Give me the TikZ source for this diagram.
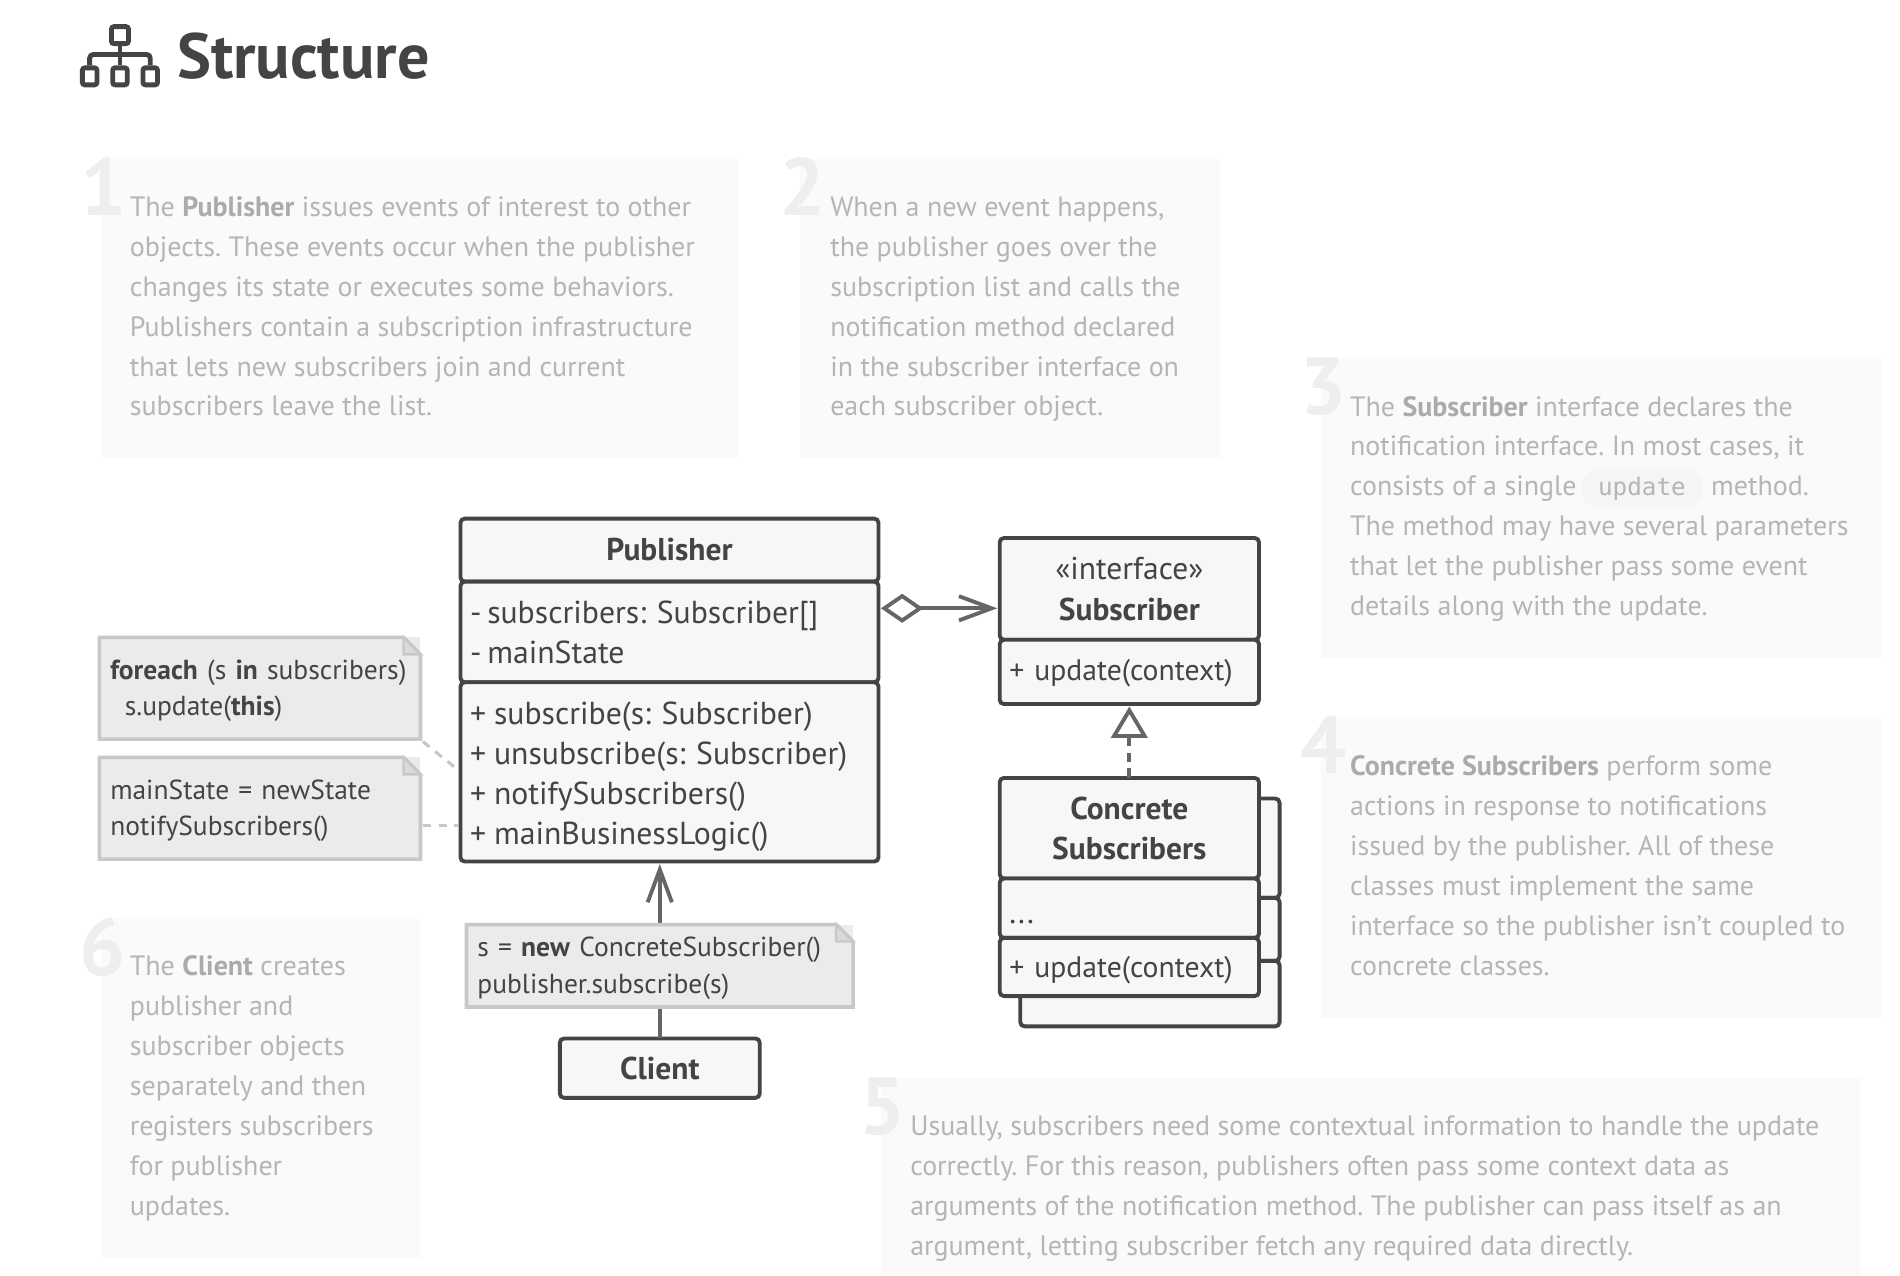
\documentclass[tikz,border=0pt]{standalone}
\usepackage{fontspec}
\setmainfont{PT Sans}
\setmonofont{DejaVu Sans Mono}
\usetikzlibrary{positioning,arrows.meta}
\definecolor{ink}{HTML}{444444}
\definecolor{linegray}{HTML}{666666}
\definecolor{boxfill}{HTML}{F7F7F7}
\definecolor{notefill}{HTML}{EBEBEB}
\definecolor{noteline}{HTML}{C8C8C8}
\definecolor{descfill}{HTML}{FAFAFA}
\definecolor{desctext}{HTML}{B5B5B5}
\definecolor{descbold}{HTML}{ABABAB}
\definecolor{digitgray}{HTML}{EEEEEE}
\newcommand{\hl}[1]{\textcolor{descbold}{\textbf{#1}}}
\newcommand{\pushdown}[1]{\rule{0pt}{#1pt}}
\tikzset{
    compart/.style={draw=ink,fill=boxfill,line width=3.2pt,rounded corners=3.5pt,outer sep=0,inner sep=0,text=ink,font=\frenchspacing\fontsize{26.2}{33}\selectfont},
    ctitle/.style={compart,align=center,font=\fontsize{26}{33}\selectfont\bfseries},
    cbody/.style={compart,align=left,inner xsep=8pt},
    csmall/.style={cbody,font=\frenchspacing\fontsize{24.5}{33}\selectfont},
    notetext/.style={fill=notefill,anchor=north west,outer sep=0,inner sep=0,inner xsep=9pt,align=left,text=ink,font=\frenchspacing\fontsize{22.7}{30}\selectfont},
    notebord/.style={draw=noteline,line width=3pt},
    desc/.style={anchor=north west,inner sep=0,align=left,text=desctext,font=\frenchspacing\fontsize{23.08}{33}\selectfont},
    digit/.style={anchor=north west,inner sep=0,text=digitgray,font=\fontsize{67}{67}\selectfont\bfseries},
    assoc/.style={draw=linegray,line width=3.2pt},
    notelink/.style={draw=noteline,line width=2.6pt,dash pattern=on 7pt off 6pt},
}
\begin{document}
\begin{tikzpicture}[x=1pt,y=-1pt]
\useasboundingbox (0,0) rectangle (1568,1053);
% title
\foreach \x in {66,91,116}{
    \draw[ink,line width=4pt,rounded corners=2pt] (\x+2,56) rectangle (\x+14,70);
}
\draw[ink,line width=4pt,rounded corners=2pt] (92,22) rectangle (106,36);
\draw[ink,line width=4pt] (99,36) -- (99,54);
\draw[ink,line width=4pt,rounded corners=3pt] (74,54) -- (74,45) -- (124,45) -- (124,54);
\node[anchor=base west,inner sep=0,text=ink,font=\fontsize{52.8}{53}\selectfont\bfseries] (title) at (146,65) {Structure};

% descriptions
\foreach \n/\xa/\ya/\xb/\yb in {box1/83/131/610/378,box2/660/131/1007/378,box3/1090/296/1552/543,box4/1090/592/1552/840,box5/727/890/1535/1052,box6/83/758/347/1038}{
    \fill[descfill] (\xa,\ya) rectangle (\xb,\yb);
}
\foreach \n/\x/\y/\d in {d1/66/130/1,d2/643/130/2,d3/1073/295/3,d4/1073/591/4,d5/709/889/5,d6/65/757/6}{
    \node[digit] (\n) at (\x,\y) {\d};
}
\node[desc] (text1) at (107,155) {\strut The \hl{Publisher} issues events of interest to other\\objects. These events occur when the publisher\\changes its state or executes some behaviors.\\Publishers contain a subscription infrastructure\\that lets new subscribers join and current\\subscribers leave the list.};
\node[desc] (text2) at (685,155) {\strut When a new event happens,\\the publisher goes over the\\subscription list and calls the\\notification method declared\\in the subscriber interface on\\each subscriber object.};
\node[fill=notefill!50,rounded corners=14pt,minimum width=100,minimum height=32,inner sep=0,text=desctext,font=\fontsize{20}{24}\selectfont\ttfamily] (chip) at (1355,403) {update};
\node[desc] (text3) at (1114,320) {\strut The \hl{Subscriber} interface declares the\\notification interface. In most cases, it\\consists of a single\\The method may have several parameters\\that let the publisher pass some event\\details along with the update.};
\node[anchor=base west,inner sep=0,text=desctext,font=\fontsize{23.08}{33}\selectfont] (text3b) at (1412,409) {method.};
\node[desc] (text4) at (1114,617) {\strut\hl{Concrete Subscribers} perform some\\actions in response to notifications\\issued by the publisher. All of these\\classes must implement the same\\interface so the publisher isn’t coupled to\\concrete classes.};
\node[desc] (text5) at (751,914) {\strut Usually, subscribers need some contextual information to handle the update\\correctly. For this reason, publishers often pass some context data as\\arguments of the notification method. The publisher can pass itself as an\\argument, letting subscriber fetch any required data directly.};
\node[desc] (text6) at (107,782) {\strut The \hl{Client} creates\\publisher and\\subscriber objects\\separately and then\\registers subscribers\\for publisher\\updates.};

% classes
\node[ctitle,minimum width=345,minimum height=52,anchor=north west] (pubtitle) at (380,428) {\raisebox{2pt}{Publisher}};
\node[cbody,text width=329,minimum height=83,below=0pt of pubtitle] (pubattrs) {\pushdown{20}-\hspace{.18em}subscribers: Subscriber[]\\-\hspace{.18em}mainState};
\node[cbody,text width=329,minimum height=148,below=0pt of pubattrs] (pubops) {\pushdown{26}+\hspace{6.5pt}subscribe(s: Subscriber)\\+\hspace{6.5pt}unsubscribe(s: Subscriber)\\+\hspace{6.5pt}notifySubscribers()\\+\hspace{6.5pt}mainBusinessLogic()};

\node[ctitle,minimum width=214,minimum height=84,anchor=north west,font=\fontsize{26}{34}\selectfont\bfseries] (subtitle) at (825,444) {\textmd{«interface»}\\Subscriber};
\node[csmall,text width=198,minimum height=53,below=0pt of subtitle] (subops) {\pushdown{19}+ update(context)};

\foreach \n/\y/\h in {backa/659/82,backb/741/52,backc/793/54}{
    \node[compart,minimum width=214,minimum height=\h,anchor=north west] (\n) at (842,\y) {};
}
\node[ctitle,minimum width=214,minimum height=83,anchor=north west] (conctitle) at (825,642) {Concrete\\Subscribers};
\node[cbody,text width=198,minimum height=49,below=0pt of conctitle] (concattrs) {\\[-8pt]...};
\node[csmall,text width=198,minimum height=48,below=0pt of concattrs] (concops) {\pushdown{22}+ update(context)};

\node[ctitle,minimum width=165,minimum height=49,anchor=north west] (client) at (462,857) {Client};

% connectors
\draw[assoc,-{Straight Barb[length=27pt,width=20pt]}] (client.north) -- ([yshift=-2pt]client.north |- pubops.south);
\coordinate[below=16pt of subtitle.west] (aggto);
\draw[assoc,{Diamond[open,fill=white,length=35pt,width=24pt]}-{Straight Barb[length=27pt,width=20pt]}] ([xshift=2pt]pubattrs.east |- aggto) -- ([xshift=-2pt]aggto);
\draw[assoc,dash pattern=on 8pt off 5pt,-{Triangle[open,fill=white,length=26pt,width=30pt]}] (conctitle.north) -- ([yshift=-2pt]subops.south);

% notes
\node[notetext,minimum width=265,minimum height=84,text width=247] (note1) at (82,526) {\pushdown{20}\textbf{foreach} (s \textbf{in} subscribers)\\\hspace*{12pt}s.update(\textbf{this})};
\node[notetext,minimum width=265,minimum height=84,text width=247] (note2) at (82,625) {\pushdown{20}mainState = newState\\notifySubscribers()};
\node[notetext,minimum width=319,minimum height=68,text width=301] (note3) at (385,763) {\pushdown{20}s = \textbf{new} ConcreteSubscriber()\\publisher.subscribe(s)};
\foreach \n in {note1,note2,note3}{
    \draw[notebord] (\n.north west) -- ([xshift=-14pt]\n.north east) -- ([yshift=-14pt]\n.north east) -- (\n.south east) -- (\n.south west) -- cycle;
    \draw[noteline,fill=noteline!70,line width=2pt] ([xshift=-14pt]\n.north east) -- ([xshift=-14pt,yshift=-14pt]\n.north east) -- ([yshift=-14pt]\n.north east) -- cycle;
}
\draw[notelink,shorten >=5pt] ([xshift=2pt,yshift=-2pt]note1.south east) -- (pubops.west);
\draw[notelink,shorten >=2pt] ([xshift=2pt,yshift=-14pt]note2.east) -- ([yshift=-14pt]note2.east -| pubops.west);
\end{tikzpicture}
\end{document}
